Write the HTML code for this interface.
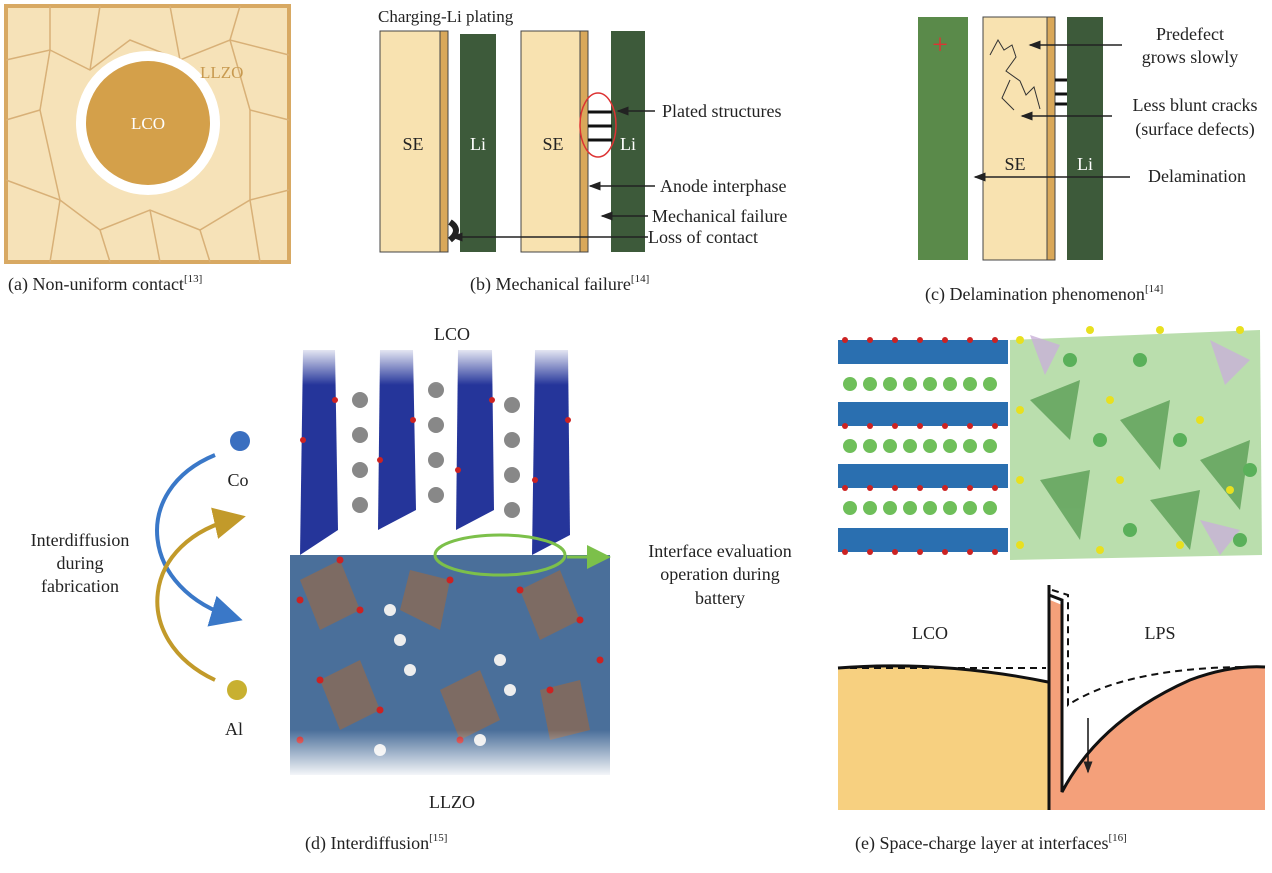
<!DOCTYPE html>
<html><head><meta charset="utf-8"><style>
html,body{margin:0;padding:0;background:#fff;width:1272px;height:873px;overflow:hidden}
svg{display:block}
text{font-family:"Liberation Serif",serif;fill:#222}
</style></head><body>
<svg width="1272" height="873" viewBox="0 0 1272 873" xmlns="http://www.w3.org/2000/svg">
<defs>
<marker id="ar" markerWidth="8" markerHeight="8" refX="7" refY="4" orient="auto"><path d="M0,1 L8,4 L0,7 Z" fill="#222"/></marker>
<marker id="ab" markerWidth="8" markerHeight="8" refX="6" refY="4" orient="auto"><path d="M0,0 L8,4 L0,8 Z" fill="#3a78c8"/></marker>
<marker id="ay" markerWidth="8" markerHeight="8" refX="6" refY="4" orient="auto"><path d="M0,0 L8,4 L0,8 Z" fill="#c29a2a"/></marker>
<marker id="ag" markerWidth="8" markerHeight="8" refX="6" refY="4" orient="auto"><path d="M0,0 L8,4 L0,8 Z" fill="#7cc04a"/></marker>
<linearGradient id="fadeT" x1="0" y1="0" x2="0" y2="1"><stop offset="0" stop-color="#fff"/><stop offset="1" stop-color="#fff" stop-opacity="0"/></linearGradient>
<linearGradient id="fadeB" x1="0" y1="0" x2="0" y2="1"><stop offset="0" stop-color="#fff" stop-opacity="0"/><stop offset="1" stop-color="#fff"/></linearGradient>
</defs>

<!-- (a) -->
<rect x="6" y="6" width="283" height="256" fill="#f6e2b8" stroke="#d8a963" stroke-width="4"/>
<g stroke="#d8b077" stroke-width="1.5" fill="none">
<path d="M6,60 L50,50 L90,70 L130,40 L180,60 L230,40 L289,55"/>
<path d="M6,120 L40,110 M250,110 L289,120 M6,180 L60,200 L100,230 L150,210 L200,230 L250,200 L289,190"/>
<path d="M50,6 L50,50 M90,70 L100,6 M180,60 L170,6 M230,40 L240,6 M60,200 L50,262 M100,230 L110,262 M150,210 L160,262 M200,230 L210,262 M250,200 L260,262"/>
<path d="M40,110 L50,50 M40,110 L60,200 M250,110 L230,40 M250,110 L250,200"/>
</g>
<circle cx="148" cy="123" r="72" fill="#fff"/>
<circle cx="148" cy="123" r="62" fill="#d4a04a"/>
<text x="148" y="129" font-size="17" text-anchor="middle" style="fill:#fff">LCO</text>
<text x="200" y="78" font-size="17" style="fill:#c89a50">LLZO</text>
<text x="8" y="290" font-size="18">(a) Non-uniform contact<tspan font-size="11" dy="-8">[13]</tspan></text>

<!-- (b) -->
<text x="378" y="22" font-size="17">Charging-Li plating</text>
<rect x="380" y="31" width="60" height="221" fill="#f8e2b0" stroke="#444"/>
<rect x="440" y="31" width="8" height="221" fill="#d9a85a" stroke="#444"/>
<rect x="460" y="34" width="36" height="218" fill="#3d5a3a"/>
<path d="M450,222 q12,8 0,18" stroke="#222" stroke-width="6" fill="none"/>
<text x="413" y="150" font-size="18" text-anchor="middle">SE</text>
<text x="478" y="150" font-size="18" text-anchor="middle" style="fill:#fff">Li</text>
<rect x="521" y="31" width="59" height="221" fill="#f8e2b0" stroke="#444"/>
<rect x="580" y="31" width="8" height="221" fill="#d9a85a" stroke="#444"/>
<rect x="611" y="31" width="34" height="221" fill="#3d5a3a"/>
<g stroke="#111" stroke-width="3"><line x1="588" y1="112" x2="612" y2="112"/><line x1="588" y1="126" x2="612" y2="126"/><line x1="588" y1="140" x2="612" y2="140"/></g>
<ellipse cx="598" cy="125" rx="18" ry="32" fill="none" stroke="#d33" stroke-width="1.5"/>
<text x="553" y="150" font-size="18" text-anchor="middle">SE</text>
<text x="628" y="150" font-size="18" text-anchor="middle" style="fill:#fff">Li</text>
<g stroke="#222" stroke-width="1.5">
<line x1="655" y1="111" x2="618" y2="111" marker-end="url(#ar)"/>
<line x1="655" y1="186" x2="590" y2="186" marker-end="url(#ar)"/>
<line x1="648" y1="216" x2="602" y2="216" marker-end="url(#ar)"/>
<line x1="648" y1="237" x2="452" y2="237" marker-end="url(#ar)"/>
</g>
<text x="662" y="117" font-size="18">Plated structures</text>
<text x="660" y="192" font-size="18">Anode interphase</text>
<text x="652" y="222" font-size="18">Mechanical failure</text>
<text x="648" y="243" font-size="18">Loss of contact</text>
<text x="470" y="290" font-size="18">(b) Mechanical failure<tspan font-size="11" dy="-8">[14]</tspan></text>

<!-- (c) -->
<rect x="918" y="17" width="50" height="243" fill="#5a8a4a"/>
<text x="940" y="54" font-size="28" text-anchor="middle" style="fill:#d33">+</text>
<rect x="983" y="17" width="64" height="243" fill="#f8e2b0" stroke="#444"/>
<rect x="1047" y="17" width="8" height="243" fill="#d9a85a" stroke="#444"/>
<rect x="1067" y="17" width="36" height="243" fill="#3d5a3a"/>
<path d="M990,55 l8,-15 l6,10 l8,-5 l4,12 l-10,14 l14,10 l6,14 l8,-8 l6,22 M1010,80 l-8,18 l12,12" stroke="#333" fill="none" stroke-width="1"/>
<g stroke="#111" stroke-width="3"><line x1="1055" y1="80" x2="1067" y2="80"/><line x1="1055" y1="94" x2="1067" y2="94"/><line x1="1055" y1="104" x2="1067" y2="104"/></g>
<text x="1015" y="170" font-size="18" text-anchor="middle">SE</text>
<text x="1085" y="170" font-size="18" text-anchor="middle" style="fill:#fff">Li</text>
<g stroke="#222" stroke-width="1.5">
<line x1="1122" y1="45" x2="1030" y2="45" marker-end="url(#ar)"/>
<line x1="1112" y1="116" x2="1022" y2="116" marker-end="url(#ar)"/>
<line x1="1130" y1="177" x2="975" y2="177" marker-end="url(#ar)"/>
</g>
<text x="1190" y="40" font-size="18" text-anchor="middle">Predefect</text>
<text x="1190" y="63" font-size="18" text-anchor="middle">grows slowly</text>
<text x="1195" y="111" font-size="18" text-anchor="middle">Less blunt cracks</text>
<text x="1195" y="135" font-size="18" text-anchor="middle">(surface defects)</text>
<text x="1197" y="182" font-size="18" text-anchor="middle">Delamination</text>
<text x="925" y="300" font-size="18">(c) Delamination phenomenon<tspan font-size="11" dy="-8">[14]</tspan></text>

<!-- (d) -->
<text x="452" y="340" font-size="18" text-anchor="middle">LCO</text>
<g fill="#25359a">
<polygon points="303,350 335,350 338,530 300,555"/>
<polygon points="380,350 413,350 416,510 378,530"/>
<polygon points="458,350 492,350 494,510 456,530"/>
<polygon points="535,350 568,350 570,535 532,555"/>
</g>
<g fill="#888">
<circle cx="360" cy="400" r="8"/><circle cx="360" cy="435" r="8"/><circle cx="360" cy="470" r="8"/><circle cx="360" cy="505" r="8"/>
<circle cx="436" cy="390" r="8"/><circle cx="436" cy="425" r="8"/><circle cx="436" cy="460" r="8"/><circle cx="436" cy="495" r="8"/>
<circle cx="512" cy="405" r="8"/><circle cx="512" cy="440" r="8"/><circle cx="512" cy="475" r="8"/><circle cx="512" cy="510" r="8"/>
</g>
<rect x="290" y="345" width="330" height="40" fill="url(#fadeT)"/>
<rect x="290" y="555" width="320" height="220" fill="#4a6f9a"/>
<g fill="#8a6a55" opacity="0.8">
<polygon points="300,580 340,560 360,610 320,630"/><polygon points="410,570 450,580 440,630 400,610"/><polygon points="520,590 560,570 580,620 540,640"/>
<polygon points="320,680 360,660 380,710 340,730"/><polygon points="440,690 480,670 500,720 460,740"/><polygon points="540,690 580,680 590,730 550,740"/>
</g>
<g fill="#eee"><circle cx="390" cy="610" r="6"/><circle cx="400" cy="640" r="6"/><circle cx="410" cy="670" r="6"/><circle cx="500" cy="660" r="6"/><circle cx="510" cy="690" r="6"/><circle cx="480" cy="740" r="6"/><circle cx="380" cy="750" r="6"/></g>
<g fill="#c22"><circle cx="300" cy="600" r="3.5"/><circle cx="340" cy="560" r="3.5"/><circle cx="360" cy="610" r="3.5"/><circle cx="450" cy="580" r="3.5"/><circle cx="520" cy="590" r="3.5"/><circle cx="580" cy="620" r="3.5"/><circle cx="320" cy="680" r="3.5"/><circle cx="380" cy="710" r="3.5"/><circle cx="460" cy="740" r="3.5"/><circle cx="550" cy="690" r="3.5"/><circle cx="600" cy="660" r="3.5"/><circle cx="300" cy="740" r="3.5"/>
<circle cx="303" cy="440" r="3"/><circle cx="335" cy="400" r="3"/><circle cx="380" cy="460" r="3"/><circle cx="413" cy="420" r="3"/><circle cx="458" cy="470" r="3"/><circle cx="492" cy="400" r="3"/><circle cx="535" cy="480" r="3"/><circle cx="568" cy="420" r="3"/></g>
<rect x="285" y="730" width="330" height="48" fill="url(#fadeB)"/>
<ellipse cx="500" cy="555" rx="65" ry="20" fill="none" stroke="#7cc04a" stroke-width="3"/>
<line x1="567" y1="557" x2="605" y2="557" stroke="#7cc04a" stroke-width="3" marker-end="url(#ag)"/>
<text x="720" y="557" font-size="18" text-anchor="middle">Interface evaluation</text>
<text x="720" y="580" font-size="18" text-anchor="middle">operation during</text>
<text x="720" y="604" font-size="18" text-anchor="middle">battery</text>
<text x="452" y="808" font-size="18" text-anchor="middle">LLZO</text>
<circle cx="240" cy="441" r="10" fill="#3a6fc0"/>
<text x="238" y="486" font-size="18" text-anchor="middle">Co</text>
<circle cx="237" cy="690" r="10" fill="#c8b030"/>
<text x="234" y="735" font-size="18" text-anchor="middle">Al</text>
<path d="M215,455 C130,490 140,590 235,618" stroke="#3a78c8" stroke-width="4" fill="none" marker-end="url(#ab)"/>
<path d="M215,680 C130,640 140,540 238,518" stroke="#c29a2a" stroke-width="4" fill="none" marker-end="url(#ay)"/>
<text x="80" y="546" font-size="18" text-anchor="middle">Interdiffusion</text>
<text x="80" y="569" font-size="18" text-anchor="middle">during</text>
<text x="80" y="592" font-size="18" text-anchor="middle">fabrication</text>
<text x="305" y="849" font-size="18">(d) Interdiffusion<tspan font-size="11" dy="-8">[15]</tspan></text>

<!-- (e) -->
<g fill="#2a6fb0">
<rect x="838" y="340" width="170" height="24"/><rect x="838" y="402" width="170" height="24"/><rect x="838" y="464" width="170" height="24"/><rect x="838" y="528" width="170" height="24"/>
</g>
<g fill="#6fbf5a">
<circle cx="850" cy="384" r="7"/><circle cx="870" cy="384" r="7"/><circle cx="890" cy="384" r="7"/><circle cx="910" cy="384" r="7"/><circle cx="930" cy="384" r="7"/><circle cx="950" cy="384" r="7"/><circle cx="970" cy="384" r="7"/><circle cx="990" cy="384" r="7"/>
<circle cx="850" cy="446" r="7"/><circle cx="870" cy="446" r="7"/><circle cx="890" cy="446" r="7"/><circle cx="910" cy="446" r="7"/><circle cx="930" cy="446" r="7"/><circle cx="950" cy="446" r="7"/><circle cx="970" cy="446" r="7"/><circle cx="990" cy="446" r="7"/>
<circle cx="850" cy="508" r="7"/><circle cx="870" cy="508" r="7"/><circle cx="890" cy="508" r="7"/><circle cx="910" cy="508" r="7"/><circle cx="930" cy="508" r="7"/><circle cx="950" cy="508" r="7"/><circle cx="970" cy="508" r="7"/><circle cx="990" cy="508" r="7"/>
</g>
<polygon points="1010,340 1260,330 1262,555 1010,560" fill="#9dd08a" opacity="0.7"/>
<g fill="#3d8a3a" opacity="0.6"><polygon points="1030,400 1080,380 1070,440"/><polygon points="1120,420 1170,400 1160,470"/><polygon points="1200,460 1250,440 1240,510"/><polygon points="1040,480 1090,470 1080,540"/><polygon points="1150,500 1200,490 1190,550"/></g>
<g fill="#c9b0d8" opacity="0.8"><polygon points="1030,335 1060,345 1045,375"/><polygon points="1210,340 1250,360 1225,385"/><polygon points="1200,520 1240,530 1220,555"/></g>
<g fill="#5ab05a"><circle cx="1070" cy="360" r="7"/><circle cx="1140" cy="360" r="7"/><circle cx="1100" cy="440" r="7"/><circle cx="1180" cy="440" r="7"/><circle cx="1250" cy="470" r="7"/><circle cx="1130" cy="530" r="7"/><circle cx="1240" cy="540" r="7"/></g>
<g fill="#e8e020"><circle cx="1020" cy="340" r="4"/><circle cx="1090" cy="330" r="4"/><circle cx="1160" cy="330" r="4"/><circle cx="1240" cy="330" r="4"/><circle cx="1020" cy="410" r="4"/><circle cx="1110" cy="400" r="4"/><circle cx="1200" cy="420" r="4"/><circle cx="1020" cy="480" r="4"/><circle cx="1120" cy="480" r="4"/><circle cx="1230" cy="490" r="4"/><circle cx="1020" cy="545" r="4"/><circle cx="1100" cy="550" r="4"/><circle cx="1180" cy="545" r="4"/></g>
<g fill="#c22"><circle cx="845" cy="340" r="3"/><circle cx="870" cy="340" r="3"/><circle cx="895" cy="340" r="3"/><circle cx="920" cy="340" r="3"/><circle cx="945" cy="340" r="3"/><circle cx="970" cy="340" r="3"/><circle cx="995" cy="340" r="3"/>
<circle cx="845" cy="426" r="3"/><circle cx="870" cy="426" r="3"/><circle cx="895" cy="426" r="3"/><circle cx="920" cy="426" r="3"/><circle cx="945" cy="426" r="3"/><circle cx="970" cy="426" r="3"/><circle cx="995" cy="426" r="3"/>
<circle cx="845" cy="488" r="3"/><circle cx="870" cy="488" r="3"/><circle cx="895" cy="488" r="3"/><circle cx="920" cy="488" r="3"/><circle cx="945" cy="488" r="3"/><circle cx="970" cy="488" r="3"/><circle cx="995" cy="488" r="3"/>
<circle cx="845" cy="552" r="3"/><circle cx="870" cy="552" r="3"/><circle cx="895" cy="552" r="3"/><circle cx="920" cy="552" r="3"/><circle cx="945" cy="552" r="3"/><circle cx="970" cy="552" r="3"/><circle cx="995" cy="552" r="3"/></g>

<text x="930" y="639" font-size="18" text-anchor="middle">LCO</text>
<text x="1160" y="639" font-size="18" text-anchor="middle">LPS</text>
<path d="M838,668 Q940,660 1048,682 L1048,810 L838,810 Z" fill="#f7d080"/>
<path d="M1050,600 L1062,605 L1062,792 Q1100,720 1190,680 Q1230,665 1265,667 L1265,810 L1050,810 Z" fill="#f4a07a"/>
<path d="M838,668 Q940,660 1048,682" stroke="#111" stroke-width="3" fill="none"/>
<path d="M838,668 L1046,668" stroke="#111" stroke-width="2" stroke-dasharray="7,5" fill="none"/>
<line x1="1049" y1="585" x2="1049" y2="810" stroke="#111" stroke-width="3"/>
<path d="M1049,595 L1062,600 L1062,792 Q1100,720 1190,680 Q1230,665 1265,667" stroke="#111" stroke-width="3" fill="none"/>
<path d="M1052,590 L1068,595 L1068,705 Q1130,665 1265,667" stroke="#111" stroke-width="2" stroke-dasharray="7,5" fill="none"/>
<line x1="1088" y1="718" x2="1088" y2="772" stroke="#111" stroke-width="1.5" marker-end="url(#ar)"/>
<text x="855" y="849" font-size="18">(e) Space-charge layer at interfaces<tspan font-size="11" dy="-8">[16]</tspan></text>
</svg>
</body></html>
